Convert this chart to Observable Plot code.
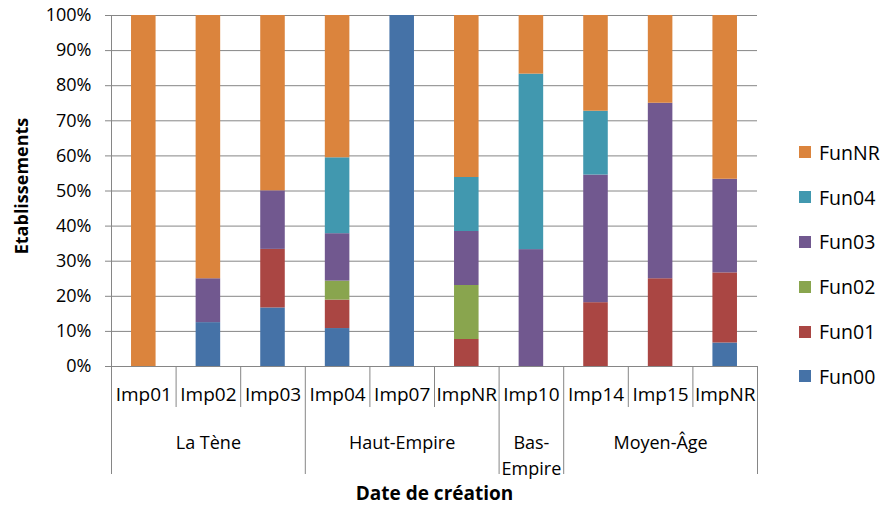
<!DOCTYPE html>
<html>
<head>
<meta charset="utf-8">
<script src="https://cdn.jsdelivr.net/npm/d3@7"></script>
<script src="https://cdn.jsdelivr.net/npm/@observablehq/plot@0.6"></script>
<style>
  html, body { margin: 0; padding: 0; background: #fff; }
  #wrap { position: relative; width: 884px; height: 506px; font-family: "Open Sans", sans-serif; }
  #legend { position: absolute; left: 799px; top: 130px; font-size: 19.5px; color: #000; }
  .item { display: flex; align-items: center; height: 44.8px; }
  .sw { width: 12px; height: 12px; margin-right: 8px; }
</style>
</head>
<body>
<div id="wrap"><div id="legend"></div></div>
<script>
// Categories (bars), grouped by period
const categories = ["Imp01", "Imp02", "Imp03", "Imp04", "Imp07", "ImpNR", "Imp10", "Imp14", "Imp15", "ImpNR"];
const groups = ["La Tène", "Haut-Empire", "Bas-\nEmpire", "Moyen-Âge"];
const categoryGroup = [0, 0, 0, 1, 1, 1, 2, 3, 3, 3];

// Series (stacked bottom to top) and colours
const series = ["Fun00", "Fun01", "Fun02", "Fun03", "Fun04", "FunNR"];
const colors = ["#4572A7", "#AA4643", "#89A54E", "#71588F", "#4198AF", "#DB843D"];

// Percentages, per category
const Fun00 = [0, 12.5, 16.7, 10.8, 100, 0, 0, 0, 0, 6.7];
const Fun01 = [0, 0, 16.7, 8.1, 0, 7.7, 0, 18.2, 25, 20];
const Fun02 = [0, 0, 0, 5.4, 0, 15.4, 0, 0, 0, 0];
const Fun03 = [0, 12.5, 16.7, 13.5, 0, 15.4, 33.3, 36.4, 50, 26.7];
const Fun04 = [0, 0, 0, 21.6, 0, 15.4, 50, 18.2, 0, 0];
const FunNR = [100, 75, 50, 40.5, 0, 46.2, 16.7, 27.3, 25, 46.7];

const yTickLabels = [0, 10, 20, 30, 40, 50, 60, 70, 80, 90, 100];
const yTitle = "Etablissements";
const xTitle = "Date de création";

// Build table
const seriesValues = [Fun00, Fun01, Fun02, Fun03, Fun04, FunNR];
const table = [];
categories.forEach((c, i) => {
  series.forEach((s, k) => {
    table.push({idx: i, category: c, series: s, value: seriesValues[k][i]});
  });
});
const catTable = categories.map((c, i) => ({idx: i, label: c}));
const groupTable = groups.map((g, gi) => {
  const members = categoryGroup.map((g2, i) => g2 === gi ? i : null).filter(v => v !== null);
  return {label: g, first: d3.min(members), last: d3.max(members) + 1};
});
const innerBounds = d3.range(1, categories.length).filter(b => categoryGroup[b] === categoryGroup[b - 1]);
const groupBounds = [0, ...d3.range(1, categories.length).filter(b => categoryGroup[b] !== categoryGroup[b - 1]), categories.length];

const W = 884, H = 506, mL = 111, mR = 127, mT = 15, mB = 140;
const frameH = H - mT - mB;
const half = 0.19; // half bar width in category units
const gray = "#868686";

const chart = Plot.plot({
  width: W, height: H,
  marginLeft: mL, marginRight: mR, marginTop: mT, marginBottom: mB,
  style: {fontFamily: "Open Sans, sans-serif", fontSize: "18px", color: "#000", background: "#fff"},
  x: {domain: [0, categories.length], axis: null},
  y: {domain: [0, 1], axis: null},
  color: {domain: series, range: colors},
  marks: [
    Plot.gridY(yTickLabels.map(v => v / 100), {stroke: gray, strokeOpacity: 1, strokeWidth: 1}),
    Plot.axisY(yTickLabels.map(v => v / 100), {
      tickSize: 6, tickPadding: 14, stroke: gray, fill: "#000",
      tickFormat: d => Math.round(d * 100) + "%", label: null, fontSize: 18
    }),
    Plot.rectY(table, Plot.stackY({
      x1: d => d.idx + 0.5 - half,
      x2: d => d.idx + 0.5 + half,
      y: "value",
      fill: "series",
      order: series,
      offset: "normalize"
    })),
    Plot.ruleX([0], {stroke: gray}),
    Plot.ruleY([0], {stroke: gray}),
    Plot.ruleX(innerBounds, {x: d => d, stroke: gray, insetTop: frameH, insetBottom: -41}),
    Plot.ruleX(groupBounds, {x: d => d, stroke: gray, insetTop: frameH, insetBottom: -108}),
    Plot.text(catTable, {x: d => d.idx + 0.5, text: "label", frameAnchor: "bottom", lineAnchor: "top", dy: 21, fontSize: 19, fill: "#000"}),
    Plot.text(groupTable, {x: d => (d.first + d.last) / 2, text: "label", frameAnchor: "bottom", lineAnchor: "top", dy: 64, lineHeight: 1.44, fontSize: 18, fill: "#000"}),
    Plot.text([xTitle], {frameAnchor: "bottom", lineAnchor: "middle", dy: 127, fontSize: 19, fontWeight: "bold", fill: "#000"}),
    Plot.text([yTitle], {frameAnchor: "left", textAnchor: "middle", rotate: -90, dx: -89, dy: -5, lineAnchor: "middle", fontSize: 18, fontWeight: "bold", fill: "#000"})
  ]
});
document.getElementById("wrap").prepend(chart);

// Legend (top to bottom: FunNR ... Fun00)
const legend = document.getElementById("legend");
series.slice().reverse().forEach(s => {
  const item = document.createElement("div");
  item.className = "item";
  const sw = document.createElement("span");
  sw.className = "sw";
  sw.style.background = colors[series.indexOf(s)];
  const t = document.createElement("span");
  t.textContent = s;
  item.append(sw, t);
  legend.append(item);
});
</script>
</body>
</html>
